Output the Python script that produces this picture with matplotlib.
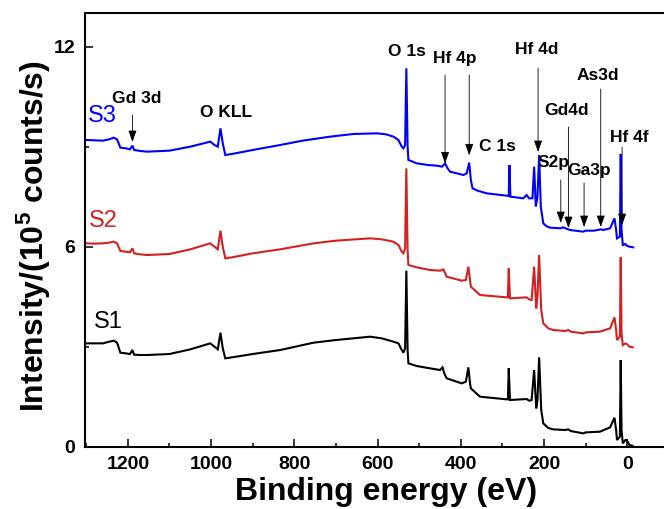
import matplotlib
matplotlib.use("Agg")
import matplotlib.pyplot as plt
from matplotlib.ticker import MultipleLocator

plt.rcParams['font.family'] = ['Liberation Sans', 'DejaVu Sans']
plt.rcParams['mathtext.fontset'] = 'custom'
plt.rcParams['mathtext.rm'] = 'Liberation Sans:bold'
plt.rcParams['mathtext.default'] = 'rm'

# ---- data (binding energy eV, intensity 1e5 counts/s) ----
s3_energy = [1300, 1280, 1260, 1245, 1234, 1226, 1218, 1205, 1195, 1189, 1185, 1170, 1154, 1100, 1050,
             1002, 992, 984, 977.6, 972, 966, 950, 900, 834, 780, 714, 658, 602, 580, 562, 550, 542,
             538, 534, 531, 528, 526, 506, 480, 458, 445, 438, 432, 426, 410, 394, 386, 380, 376, 372,
             360, 338, 290, 285, 283.4, 281, 250, 242, 236, 228, 224, 220, 216, 212, 208, 202, 195,
             186, 160, 155, 142, 138, 106, 100, 80, 64, 58, 41.5, 31, 27, 25, 18, 16, 14, 11, 5, 1.5,
             -5, -14]
s3_intensity = [9.20, 9.19, 9.18, 9.22, 9.27, 9.22, 8.97, 8.95, 8.92, 9.03, 8.90, 8.87, 8.85, 8.88, 9.00,
                9.15, 9.05, 9.00, 9.55, 9.10, 8.75, 8.78, 8.90, 9.05, 9.18, 9.30, 9.38, 9.40, 9.37, 9.30,
                9.20, 9.00, 8.95, 9.05, 11.35, 9.00, 8.60, 8.50, 8.45, 8.43, 8.40, 8.50, 8.35, 8.25, 8.20,
                8.15, 8.20, 8.52, 8.00, 7.75, 7.68, 7.60, 7.53, 7.52, 8.45, 7.50, 7.45, 7.55, 7.45, 7.45,
                8.40, 7.20, 7.50, 8.75, 7.20, 6.70, 6.62, 6.57, 6.55, 6.58, 6.52, 6.50, 6.45, 6.48, 6.48,
                6.52, 6.50, 6.55, 6.85, 6.50, 6.25, 6.30, 8.78, 6.50, 6.05, 6.08, 6.03, 6.00, 5.98]

s2_energy = [1300, 1280, 1260, 1245, 1234, 1226, 1218, 1205, 1195, 1189, 1185, 1170, 1154, 1100, 1050,
             1002, 992, 984, 977.6, 972, 966, 950, 900, 834, 754, 700, 618, 590, 562, 550, 542,
             538, 534, 531, 528, 526, 506, 474, 450, 442, 434, 410, 398, 388, 382, 378, 376,
             354, 290, 287, 285, 282, 242, 236, 230, 224, 219, 216, 212, 207, 202, 190,
             178, 150, 142, 136, 106, 100, 66, 41.5, 31, 27, 25, 18, 16, 14, 11, 5, 1.5,
             -5, -13]
s2_intensity = [6.10, 6.09, 6.10, 6.12, 6.15, 6.10, 5.87, 5.85, 5.83, 5.95, 5.80, 5.77, 5.75, 5.78, 5.92,
                6.10, 6.00, 5.92, 6.48, 6.00, 5.65, 5.68, 5.80, 5.92, 6.10, 6.18, 6.25, 6.22, 6.15, 6.05,
                5.85, 5.80, 5.95, 8.35, 5.90, 5.45, 5.38, 5.30, 5.28, 5.32, 5.10, 5.02, 4.98, 5.00, 5.40,
                5.00, 4.80, 4.55, 4.48, 4.48, 5.35, 4.45, 4.48, 4.42, 4.40, 5.40, 4.15, 4.50, 5.75, 4.10,
                3.70, 3.55, 3.50, 3.47, 3.50, 3.45, 3.40, 3.43, 3.45, 3.55, 3.88, 3.50, 3.20, 3.30, 5.68,
                3.40, 3.05, 3.10, 3.08, 3.00, 2.98]

s1_energy = [1300, 1280, 1260, 1245, 1234, 1226, 1218, 1205, 1195, 1189, 1185, 1170, 1154, 1100, 1050,
             1002, 992, 984, 977.6, 972, 966, 950, 900, 834, 754, 700, 618, 590, 562, 550, 542,
             538, 534, 531, 528, 526, 506, 474, 450, 444, 440, 434, 410, 398, 388, 382, 378, 376,
             354, 290, 287, 285, 282, 242, 236, 230, 224, 219, 216, 212, 207, 202, 190,
             178, 150, 142, 136, 106, 100, 66, 41.5, 31, 27, 25, 18, 16, 14, 11, 5, 1.5,
             -5, -12]
s1_intensity = [3.10, 3.10, 3.10, 3.15, 3.18, 3.12, 2.82, 2.80, 2.78, 2.90, 2.76, 2.75, 2.75, 2.78, 2.92,
                3.10, 3.00, 2.92, 3.42, 2.95, 2.65, 2.68, 2.78, 2.90, 3.12, 3.20, 3.30, 3.25, 3.15, 3.10,
                2.90, 2.82, 2.95, 5.28, 2.90, 2.50, 2.42, 2.35, 2.30, 2.38, 2.20, 2.05, 1.95, 1.90, 1.95,
                2.38, 1.90, 1.75, 1.50, 1.42, 1.42, 2.35, 1.40, 1.43, 1.38, 1.40, 2.30, 1.15, 1.40, 2.68,
                1.10, 0.70, 0.56, 0.52, 0.50, 0.52, 0.47, 0.40, 0.43, 0.45, 0.58, 0.87, 0.50, 0.20, 0.30,
                2.60, 0.50, 0.10, 0.20, 0.20, 0.05, 0.03]

series_names = ['S1', 'S2', 'S3']
series_colors = ['#000000', '#d42020', '#0000ff']

# peak annotations: label, text position (E, I), arrow x, arrow start y, arrow tip y
peak_labels = ['Gd 3d', 'O KLL', 'O 1s', 'Hf 4p', 'C 1s', 'Hf 4d', 'As3d', 'Gd4d', 'Hf 4f', 'S2p', 'Ga3p']
label_x = [1178, 964, 529, 414, 313, 217, 70, 147, -4, 178, 92]
label_y = [10.43, 10.01, 11.84, 11.63, 8.99, 11.90, 11.12, 10.07, 9.26, 8.51, 8.27]
arrow_x = [1189, 438, 380, 214.6, 64, 141.7, 12.7, 160, 104]
arrow_y0 = [9.95, 11.15, 11.15, 11.36, 10.73, 9.59, 8.99, 8.00, 7.91]
arrow_y1 = [9.14, 8.50, 8.74, 8.84, 6.59, 6.56, 6.65, 6.71, 6.59]

fig = plt.figure(figsize=(6.64, 5.09), dpi=100)
ax = fig.add_axes([85 / 664, 62.3 / 509, (669 - 85) / 664, 433.4 / 509])

for e, i, c in zip([s1_energy, s2_energy, s3_energy], [s1_intensity, s2_intensity, s3_intensity], series_colors):
    ax.plot(e, i, color=c, lw=1.5, solid_joinstyle='miter')

ax.set_xlim(1303, -100)
ax.set_ylim(0, 13)
ax.xaxis.set_major_locator(MultipleLocator(200))
ax.xaxis.set_minor_locator(MultipleLocator(100))
ax.yaxis.set_major_locator(MultipleLocator(6))
ax.yaxis.set_minor_locator(MultipleLocator(3))
ax.tick_params(which='both', direction='in', width=1.1, labelsize=14, pad=7)
ax.tick_params(which='major', length=6)
ax.tick_params(which='minor', length=3)
for lab in ax.get_xticklabels() + ax.get_yticklabels():
    lab.set_fontweight('bold')
for sp in ax.spines.values():
    sp.set_linewidth(1.5)

ax.set_xlabel('Binding energy (eV)', fontsize=23, fontweight='bold')
ax.set_ylabel('Intensity/(10$^5$ counts/s)', fontsize=23, fontweight='bold')
ax.xaxis.set_label_coords(0.515, -0.07)
ax.yaxis.set_label_coords(-0.055, 0.485)

# sample labels
ax.text(1296, 9.92, series_names[2], color=series_colors[2], fontsize=17, ha='left', va='center')
ax.text(1294, 6.77, series_names[1], color=series_colors[1], fontsize=17, ha='left', va='center')
ax.text(1282, 3.73, series_names[0], color=series_colors[0], fontsize=17, ha='left', va='center')

for lab, x, y in zip(peak_labels, label_x, label_y):
    ax.text(x, y, lab, fontsize=12.5, fontweight='bold', ha='center', va='center')

for x, y0, y1 in zip(arrow_x, arrow_y0, arrow_y1):
    ax.annotate('', xy=(x, y1), xytext=(x, y0),
                arrowprops=dict(arrowstyle='-|>,head_length=0.7,head_width=0.25', color='black',
                                lw=0.6, mutation_scale=10, shrinkA=0, shrinkB=0))

fig.savefig('out.png', dpi=100)
